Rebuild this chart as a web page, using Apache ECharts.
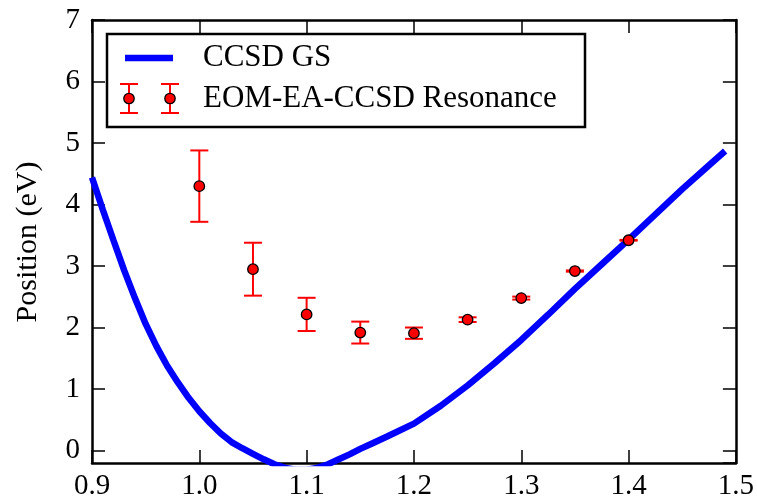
<!DOCTYPE html>
<html>
<head>
<meta charset="utf-8">
<script src="https://cdn.jsdelivr.net/npm/echarts@6/dist/echarts.min.js"></script>
<style>
  html, body { margin: 0; padding: 0; background: #fff; }
  #chart { width: 757px; height: 501px; }
</style>
</head>
<body>
<div id="chart"></div>
<script>
// Ground-state curve (bond length vs. energy, eV)
const gsX = [0.90, 0.91, 0.92, 0.93, 0.94, 0.95, 0.96, 0.97, 0.98, 0.99,
             1.00, 1.01, 1.02, 1.03, 1.04, 1.05, 1.06, 1.07, 1.08, 1.09,
             1.10, 1.11, 1.12, 1.13, 1.14, 1.15, 1.16, 1.175, 1.20, 1.225,
             1.25, 1.275, 1.30, 1.325, 1.35, 1.375, 1.40, 1.425, 1.45, 1.475, 1.49];
const gsY = [4.44, 3.92, 3.42, 2.93, 2.48, 2.06, 1.70, 1.38, 1.11, 0.86,
             0.64, 0.45, 0.28, 0.14, 0.04, -0.05, -0.14, -0.22, -0.28, -0.31,
             -0.31, -0.28, -0.22, -0.14, -0.06, 0.03, 0.11, 0.23, 0.44, 0.73,
             1.06, 1.42, 1.80, 2.21, 2.63, 3.03, 3.43, 3.84, 4.25, 4.64, 4.87];

// Resonance positions with their uncertainties
const resX = [1.00, 1.05, 1.10, 1.15, 1.20, 1.25, 1.30, 1.35, 1.40];
const resY = [4.30, 2.95, 2.215, 1.92, 1.91, 2.13, 2.48, 2.92, 3.42];
const resErr = [0.58, 0.43, 0.27, 0.178, 0.092, 0.038, 0.024, 0.01, 0.006];

// Axis ranges and tick spacing
const xRange = [0.9, 1.5];
const xStep = 0.1;
const yRange = [-0.2, 7];
const yStep = 1;

const serif = 'Liberation Serif';
const BLUE = '#0000ff';
const RED = '#ff0000';

const chart = echarts.init(document.getElementById('chart'));

const gsData = gsX.map((x, i) => [x, gsY[i]]);
const resData = resX.map((x, i) => [x, resY[i]]);
const capData = [];
resX.forEach((x, i) => {
  capData.push([x, resY[i] - resErr[i]]);
  capData.push([x, resY[i] + resErr[i]]);
});

function tickStyle() {
  return { show: true, inside: true, length: 13, lineStyle: { color: '#000', width: 1.5 } };
}
function axisLineStyle() {
  return { show: true, onZero: false, lineStyle: { color: '#000', width: 2.5 } };
}

function xAxisCfg(pos, showLabel) {
  return {
    type: 'value', position: pos, min: xRange[0], max: xRange[1], interval: xStep,
    axisLine: axisLineStyle(),
    axisTick: tickStyle(),
    axisLabel: {
      show: showLabel, margin: 9, showMinLabel: true, showMaxLabel: true,
      fontFamily: serif, fontSize: 29, color: '#000',
      formatter: v => v.toFixed(1)
    },
    splitLine: { show: false }
  };
}
function yAxisCfg(pos, showLabel) {
  return {
    type: 'value', position: pos, min: yRange[0], max: yRange[1],
    minInterval: yStep, maxInterval: yStep,
    axisLine: axisLineStyle(),
    axisTick: tickStyle(),
    axisLabel: {
      show: showLabel, margin: 12,
      fontFamily: serif, fontSize: 29, color: '#000'
    },
    splitLine: { show: false }
  };
}

// One vertical segment per resonance point for its error bar
const barSeries = resX.map((x, i) => ({
  type: 'line', z: 3, showSymbol: false, silent: true,
  data: [[x, resY[i] - resErr[i]], [x, resY[i] + resErr[i]]],
  lineStyle: { color: RED, width: 2 }
}));

// Legend glyph for the error-bar entry
function errGlyph(cx, cy) {
  return [
    { type: 'line', shape: { x1: cx, y1: cy - 14.5, x2: cx, y2: cy + 14.5 }, style: { stroke: RED, lineWidth: 2 } },
    { type: 'line', shape: { x1: cx - 9, y1: cy - 14.5, x2: cx + 9, y2: cy - 14.5 }, style: { stroke: RED, lineWidth: 2 } },
    { type: 'line', shape: { x1: cx - 9, y1: cy + 14.5, x2: cx + 9, y2: cy + 14.5 }, style: { stroke: RED, lineWidth: 2 } },
    { type: 'circle', shape: { cx: cx, cy: cy, r: 5.2 }, style: { fill: RED, stroke: '#000', lineWidth: 1.3 } }
  ];
}

const option = {
  animation: false,
  backgroundColor: '#fff',
  grid: { left: 92, right: 19, top: 20, bottom: 36, containLabel: false },
  xAxis: [xAxisCfg('bottom', true), xAxisCfg('top', false)],
  yAxis: [yAxisCfg('left', true), yAxisCfg('right', false)],
  series: [
    {
      name: 'CCSD GS', type: 'line', data: gsData, showSymbol: false, z: 2,
      lineStyle: { color: BLUE, width: 6.5 }
    },
    ...barSeries,
    {
      name: 'caps', type: 'scatter', data: capData, z: 3, silent: true,
      symbol: 'rect', symbolSize: [18, 2],
      itemStyle: { color: RED, opacity: 1 }
    },
    {
      name: 'EOM-EA-CCSD Resonance', type: 'scatter', data: resData, z: 4,
      symbol: 'circle', symbolSize: 10.5,
      itemStyle: { color: RED, borderColor: '#000', borderWidth: 1.3, opacity: 1 }
    }
  ],
  graphic: [
    // y-axis title
    {
      type: 'text', x: 28, y: 242, rotation: Math.PI / 2,
      style: { text: 'Position (eV)', fontFamily: serif, fontSize: 30, fill: '#000', align: 'center', verticalAlign: 'middle' }
    },
    // legend box
    {
      type: 'group', z: 100,
      children: [
        { type: 'rect', shape: { x: 107, y: 34, width: 478, height: 93 }, style: { fill: '#fff', stroke: '#000', lineWidth: 2.5 } },
        { type: 'line', shape: { x1: 125, y1: 58, x2: 173, y2: 58 }, style: { stroke: BLUE, lineWidth: 6.5 } },
        { type: 'text', x: 203, y: 58, style: { text: 'CCSD GS', fontFamily: serif, fontSize: 31, fill: '#000', verticalAlign: 'middle' } },
        ...errGlyph(129, 98.5),
        ...errGlyph(170, 98.5),
        { type: 'text', x: 203, y: 99, style: { text: 'EOM-EA-CCSD Resonance', fontFamily: serif, fontSize: 31, fill: '#000', verticalAlign: 'middle' } }
      ]
    }
  ]
};

chart.setOption(option);
</script>
</body>
</html>
